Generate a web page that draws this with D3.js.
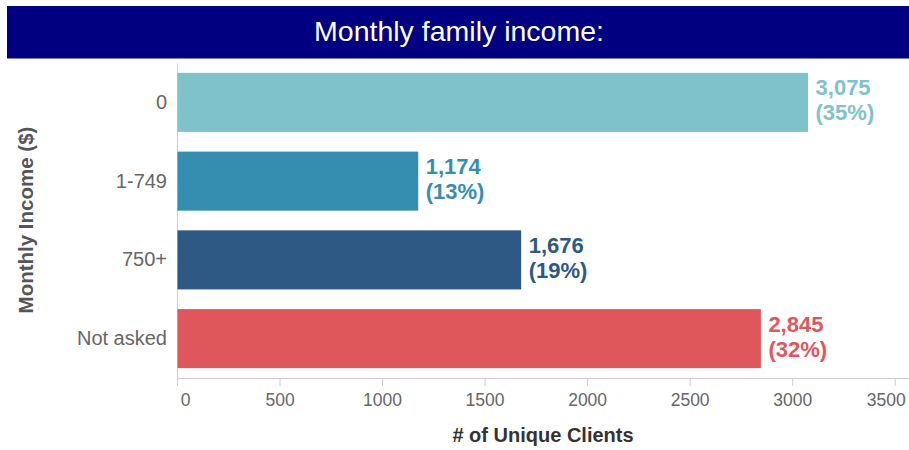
<!DOCTYPE html>
<html>
<head>
<meta charset="utf-8">
<script src="https://cdn.jsdelivr.net/npm/d3@7"></script>
<style>
  html, body { margin: 0; padding: 0; background: #fff; }
  svg { display: block; font-family: "Liberation Sans", Arial, sans-serif; }
</style>
</head>
<body>
<svg id="chart" width="909" height="450"></svg>
<script>
const categories = ["0", "1-749", "750+", "Not asked"];
const clients = [3075, 1174, 1676, 2845];
const percents = ["35%", "13%", "19%", "32%"];
const barColors = ["#80c2cb", "#358eb0", "#2d5984", "#e0575b"];
const xTicks = [0, 500, 1000, 1500, 2000, 2500, 3000, 3500];
const titleText = "Monthly family income:";
const xTitle = "# of Unique Clients";
const yTitle = "Monthly Income ($)";

const svg = d3.select("#chart");
const W = 909, H = 450;
const plot = { left: 177, right: 907, top: 63, bottom: 378 };
const FF = "Liberation Sans, Arial, sans-serif";

// Title banner
svg.append("rect").attr("x", 7).attr("y", 6).attr("width", W - 7).attr("height", 52.5).attr("fill", "#000080");
svg.append("text").attr("x", 459).attr("y", 41).attr("text-anchor", "middle")
  .attr("fill", "#fff").attr("font-size", 28.5).text(titleText);

const x = d3.scaleLinear().domain([0, 3560]).range([plot.left, plot.right]);
const y = d3.scaleBand().domain(categories).range([plot.top, plot.bottom]).paddingInner(0.25).paddingOuter(0.125);

// X axis
const xAxis = svg.append("g").attr("transform", `translate(0,${plot.bottom})`)
  .call(d3.axisBottom(x).tickValues(xTicks).tickSize(8).tickPadding(8).tickFormat(d3.format("d")));
xAxis.attr("font-family", FF);
xAxis.select(".domain").attr("stroke", "#ccc").attr("d", `M${plot.left},0.5H${plot.right + 2}`);
xAxis.selectAll(".tick line").attr("stroke", "#ccc");
xAxis.selectAll(".tick text").attr("fill", "#666").attr("font-size", 17.5);
xAxis.selectAll(".tick text").filter(d => d === 0).attr("dx", 8);
xAxis.selectAll(".tick text").filter(d => d === 3500).attr("dx", -9);

// Y axis
const yAxis = svg.append("g").attr("transform", `translate(${plot.left},0)`)
  .call(d3.axisLeft(y).tickSize(0).tickPadding(10));
yAxis.attr("font-family", FF);
yAxis.select(".domain").attr("stroke", "#ccc");
yAxis.selectAll(".tick text").attr("fill", "#666").attr("font-size", 20);

// Bars
svg.append("g").selectAll("rect").data(categories).join("rect")
  .attr("x", x(0) + 0.5)
  .attr("y", d => y(d))
  .attr("width", (d, i) => x(clients[i]) - x(0))
  .attr("height", y.bandwidth())
  .attr("fill", (d, i) => barColors[i]);

// Value labels
const fmt = d3.format(",");
const lbl = svg.append("g").selectAll("text").data(categories).join("text")
  .attr("x", (d, i) => x(clients[i]) + 8)
  .attr("y", d => y(d) + y.bandwidth() / 2)
  .attr("fill", (d, i) => barColors[i])
  .attr("font-size", 22).attr("font-weight", "bold");
lbl.append("tspan").attr("x", (d, i) => x(clients[i]) + 8).attr("dy", -7).text((d, i) => fmt(clients[i]));
lbl.append("tspan").attr("x", (d, i) => x(clients[i]) + 8).attr("dy", 25).text((d, i) => "(" + percents[i] + ")");

// Axis titles
svg.append("text").attr("x", 543).attr("y", 442).attr("text-anchor", "middle")
  .attr("fill", "#333").attr("font-size", 20).attr("font-weight", "bold").text(xTitle);
svg.append("text").attr("transform", `translate(33,220) rotate(-90)`).attr("text-anchor", "middle")
  .attr("fill", "#555").attr("font-size", 20.5).attr("font-weight", "bold").text(yTitle);
</script>
</body>
</html>
